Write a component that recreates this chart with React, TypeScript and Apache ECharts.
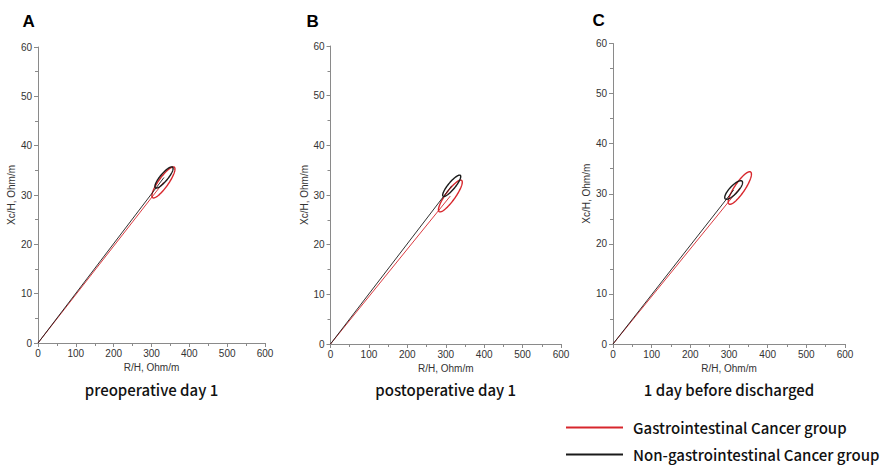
import React, { useEffect, useRef } from "react";
import * as echarts from "echarts";

const panelLetters = ["A", "B", "C"];
const panelTitles = ["preoperative day 1", "postoperative day 1", "1 day before discharged"];
const groupNames = ["Gastrointestinal Cancer group", "Non-gastrointestinal Cancer group"];
const groupColors = ["#d7262c", "#1a1a1a"];
const xAxisName = "R/H, Ohm/m";
const yAxisName = "Xc/H, Ohm/m";
const xRange = [0, 600];
const yRange = [0, 60];
const xStep = 100;
const yStep = 10;

// [mean R/H, mean Xc/H, half-range R/H, half-range Xc/H, correlation] per panel
const gastroEllipses = [
  [331.5, 32.55, 30.5, 3.15, 0.86],
  [312, 29.8, 31, 3.2, 0.87],
  [328, 31.15, 30, 3.25, 0.85],
];
const nonGastroEllipses = [
  [333, 33.55, 24, 2.15, 0.85],
  [315.5, 31.85, 23.5, 2.15, 0.87],
  [312, 30.75, 23, 1.85, 0.8],
];

const grids = [
  { left: 38, top: 47, width: 227, height: 296 },
  { left: 330.5, top: 46, width: 230.5, height: 298 },
  { left: 613, top: 43.5, width: 232, height: 300.5 },
];

const axisFont = "Liberation Sans, Arial, sans-serif";
const cjkFont = "Noto Sans CJK SC, Noto Sans, sans-serif";

export default function App() {
  const ref = useRef<HTMLDivElement>(null);

  useEffect(() => {
    if (!ref.current) return;
    const chart = echarts.init(ref.current, undefined, { renderer: "svg" });

    const axisLineStyle = { color: "#8a8a8a", width: 1 };
    const xAxes = grids.map((_, i) => ({
      type: "value",
      gridIndex: i,
      min: xRange[0],
      max: xRange[1],
      interval: xStep,
      name: xAxisName,
      nameLocation: "middle",
      nameGap: 17,
      nameTextStyle: { color: "#333", fontSize: 10, fontFamily: axisFont },
      axisLine: { show: true, lineStyle: axisLineStyle },
      axisTick: { show: true, inside: false, length: 4, lineStyle: axisLineStyle },
      minorTick: { show: true, splitNumber: 2, length: 3, lineStyle: axisLineStyle },
      axisLabel: { color: "#333", fontSize: 10, fontFamily: axisFont, margin: 5 },
      splitLine: { show: false },
    }));
    const yAxes = grids.map((_, i) => ({
      type: "value",
      gridIndex: i,
      min: yRange[0],
      max: yRange[1],
      interval: yStep,
      name: yAxisName,
      nameLocation: "middle",
      nameGap: 19,
      nameTextStyle: { color: "#333", fontSize: 10, fontFamily: axisFont },
      axisLine: { show: true, lineStyle: axisLineStyle },
      axisTick: { show: true, inside: false, length: 4, lineStyle: axisLineStyle },
      minorTick: { show: true, splitNumber: 2, length: 3, lineStyle: axisLineStyle },
      axisLabel: { color: "#333", fontSize: 10, fontFamily: axisFont, margin: 6 },
      splitLine: { show: false },
    }));

    const ellipseRender = (color: string) => (params: any, api: any) => {
      const cx = api.value(0);
      const cy = api.value(1);
      const a = api.value(2);
      const b = api.value(3);
      const r = api.value(4);
      const phi = Math.acos(r);
      const pts: number[][] = [];
      const n = 120;
      for (let k = 0; k < n; k++) {
        const t = (k / n) * Math.PI * 2;
        pts.push(api.coord([cx + a * Math.cos(t), cy + b * Math.cos(t + phi)]));
      }
      return {
        type: "polygon",
        shape: { points: pts },
        style: { fill: "none", stroke: color, lineWidth: 1.4 },
      };
    };

    const series: any[] = [];
    const groups = [gastroEllipses, nonGastroEllipses];
    grids.forEach((_, i) => {
      groups.forEach((g, gi) => {
        const e = g[i];
        series.push({
          type: "line",
          name: groupNames[gi],
          xAxisIndex: i,
          yAxisIndex: i,
          data: [
            [0, 0],
            [e[0], e[1]],
          ],
          showSymbol: false,
          symbol: "none",
          lineStyle: { color: groupColors[gi], width: 0.9 },
          itemStyle: { color: groupColors[gi] },
          silent: true,
          z: gi === 1 ? 3 : 2,
        });
        series.push({
          type: "custom",
          name: groupNames[gi],
          xAxisIndex: i,
          yAxisIndex: i,
          data: [e],
          encode: { x: 0, y: 1 },
          renderItem: ellipseRender(groupColors[gi]),
          itemStyle: { color: groupColors[gi] },
          silent: true,
          z: gi === 1 ? 3 : 2,
        });
      });
    });

    const graphic: any[] = [];
    const letterPos = [
      [22.5, 21],
      [306.5, 21],
      [592.5, 20],
    ];
    panelLetters.forEach((l, i) => {
      graphic.push({
        type: "text",
        x: letterPos[i][0],
        y: letterPos[i][1],
        style: {
          text: l,
          fontSize: 17,
          fontWeight: "bold",
          fontFamily: axisFont,
          fill: "#000",
          align: "left",
          verticalAlign: "middle",
          textAlign: "left",
          textVerticalAlign: "middle",
        },
      });
    });
    panelTitles.forEach((t, i) => {
      const g = grids[i];
      graphic.push({
        type: "text",
        x: g.left + g.width / 2,
        y: 389,
        style: {
          text: t,
          fontSize: 15,
          fontWeight: 500,
          fontFamily: cjkFont,
          fill: "#111",
          align: "center",
          verticalAlign: "middle",
          textAlign: "center",
          textVerticalAlign: "middle",
        },
      });
    });

    chart.setOption({
      animation: false,
      backgroundColor: "#fff",
      grid: grids.map((g) => ({ ...g, containLabel: false })),
      xAxis: xAxes,
      yAxis: yAxes,
      legend: {
        orient: "vertical",
        left: 566,
        top: 420,
        height: 60,
        width: 300,
        padding: 0,
        itemWidth: 57,
        itemHeight: 2,
        itemGap: 12,
        selectedMode: false,
        data: groupNames.map((n, gi) => ({
          name: n,
          icon: "rect",
          itemStyle: { color: groupColors[gi] },
        })),
        textStyle: {
          fontSize: 15,
          fontWeight: 500,
          lineHeight: 14,
          fontFamily: cjkFont,
          color: "#111",
          padding: [0, 0, 0, 5],
        },
      },
      graphic,
      series,
    });

    return () => chart.dispose();
  }, []);

  return (
    <div
      ref={ref}
      style={{ position: "fixed", left: 0, top: 0, width: 880, height: 465 }}
    />
  );
}
